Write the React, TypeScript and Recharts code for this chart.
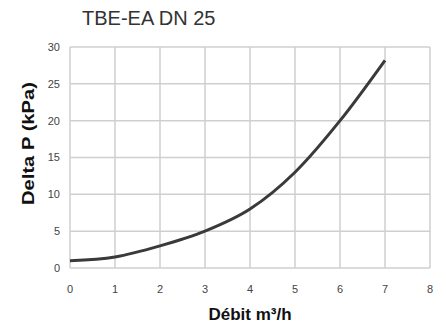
import { LineChart, Line, XAxis, YAxis, CartesianGrid, Label } from 'recharts'

const TITLE = 'TBE-EA DN 25'
const flowTicks = [0, 1, 2, 3, 4, 5, 6, 7, 8]
const pressureTicks = [0, 5, 10, 15, 20, 25, 30]

// débit (m3/h) et perte de charge (kPa)
const flow = [0, 1, 2, 3, 4, 5, 6, 7]
const deltaP = [1, 1.5, 3, 5, 8, 13, 20, 28.2]

const data = flow.map((q, i) => ({ q, dp: deltaP[i] }))

const FONT = '"Liberation Sans", Arial, sans-serif'
const tickStyle = { fill: '#444', fontSize: 11, fontFamily: FONT }

export default function App() {
  return (
    <div style={{ width: 446, height: 325, position: 'relative', background: '#fff' }}>
      <style>{`body { margin: 0; }`}</style>
      <div style={{
        position: 'absolute', left: 82, top: 6, fontFamily: FONT, fontSize: 20,
        color: '#333', fontWeight: 300, lineHeight: '24px', whiteSpace: 'nowrap'
      }}>
        {TITLE}
      </div>
      <LineChart width={446} height={325} data={data} margin={{ top: 47, right: 16, bottom: 27, left: 0 }}>
        <CartesianGrid stroke="#cfcfcf" strokeWidth={1.5} verticalValues={flowTicks} horizontalValues={pressureTicks} />
        <XAxis
          dataKey="q" type="number" domain={[0, 8]} ticks={flowTicks} interval={0}
          axisLine={false} tickLine={false} tickSize={0} tickMargin={17} height={30}
          tick={tickStyle}
        >
          <Label
            content={({ viewBox }: any) => (
              <text
                x={viewBox.x + viewBox.width / 2} y={320} textAnchor="middle"
                fontFamily={FONT} fontSize={17} fontWeight="bold" fill="#111"
              >
                Débit m³/h
              </text>
            )}
          />
        </XAxis>
        <YAxis
          type="number" domain={[0, 30]} ticks={pressureTicks} interval={0}
          axisLine={false} tickLine={false} tickSize={0} tickMargin={10} width={70}
          tick={tickStyle}
        >
          <Label
            content={({ viewBox }: any) => (
              <text
                transform={`translate(28, ${viewBox.y + viewBox.height / 2 - 14}) rotate(-90)`}
                textAnchor="middle" dominantBaseline="central"
                fontFamily={FONT} fontSize={17} fontWeight="bold" fill="#111"
                textLength={123} lengthAdjust="spacingAndGlyphs"
              >
                Delta P (kPa)
              </text>
            )}
          />
        </YAxis>
        <Line
          type="monotone" dataKey="dp" stroke="#3a3a3a" strokeWidth={3}
          dot={false} activeDot={false} isAnimationActive={false}
        />
      </LineChart>
    </div>
  )
}
